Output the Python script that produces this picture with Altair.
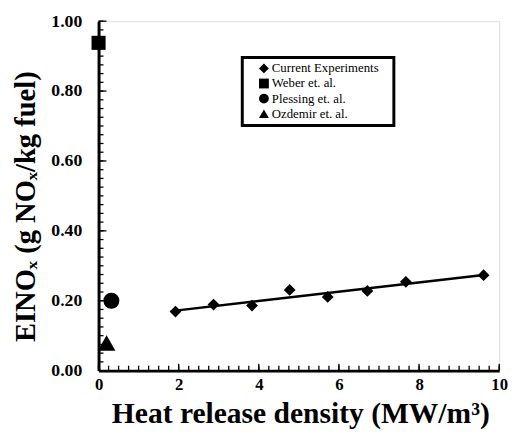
import altair as alt
import pandas as pd

series_names = ["Current Experiments", "Weber et. al.", "Plessing et. al.", "Ozdemir et. al."]
series_shapes = ["diamond", "square", "circle", "triangle-up"]
series_sizes = [144, 324, 314, 300]

cur_x = [1.92, 2.87, 3.83, 4.77, 5.72, 6.71, 7.67, 9.61]
cur_y = [0.169, 0.189, 0.186, 0.231, 0.211, 0.228, 0.254, 0.273]

weber_x = [0.0]
weber_y = [0.938]
plessing_x = [0.32]
plessing_y = [0.200]
ozdemir_x = [0.20]
ozdemir_y = [0.079]

y_minor_ticks = [round(i * 0.025, 4) for i in range(41)]
x_minor_ticks = [round(i * 0.25, 4) for i in range(41)]
y_labels = [0, 0.2, 0.4, 0.6, 0.8, 1.0]
x_labels = [0, 2, 4, 6, 8, 10]

rows = []
for xs, ys, name in [(cur_x, cur_y, series_names[0]), (weber_x, weber_y, series_names[1]),
                     (plessing_x, plessing_y, series_names[2]), (ozdemir_x, ozdemir_y, series_names[3])]:
    for a, b in zip(xs, ys):
        rows.append({"x": a, "y": b, "series": name})
df = pd.DataFrame(rows)
cur_df = pd.DataFrame({"x": cur_x, "y": cur_y})
legend_df = pd.DataFrame({"series": series_names})

FONT = "Liberation Serif"
W, H = 407, 355

xscale = alt.Scale(domain=[0, 10], nice=False, zero=False)
yscale = alt.Scale(domain=[0, 1], nice=False, zero=False)
shape_scale = alt.Scale(domain=series_names, range=series_shapes)

x_main = alt.Axis(
    values=x_labels, ticks=False, grid=False, domain=True, domainWidth=3, domainColor="black",
    labelFont=FONT, labelFontWeight="bold", labelFontSize=17, labelColor="black",
    labelPadding=6, labelFlush=False, labelOverlap=False,
    title="Heat release density (MW/m³)", titleFont=FONT, titleFontWeight="bold",
    titleFontSize=30, titleColor="black", titleBaseline="alphabetic", titleY=53,
    titleX=205, titleAlign="center", orient="bottom",
)
y_main = alt.Axis(
    values=y_labels, format=".2f", ticks=False, grid=False, domain=True, domainWidth=3,
    domainColor="black", labelFont=FONT, labelFontWeight="bold", labelFontSize=18,
    labelColor="black", labelPadding=17, labelFlush=False, labelOverlap=False,
    title="EINOₓ (g NOₓ/kg fuel)", titleFont=FONT, titleFontWeight="bold", titleFontSize=29,
    titleColor="black", titleAngle=-90, titleBaseline="alphabetic", titleX=-65, titleY=188,
    titleAlign="center", orient="left",
)

points = alt.Chart(df).transform_calculate(sz="datum.series").mark_point(filled=True, opacity=1).encode(
    x=alt.X("x:Q", scale=xscale, axis=x_main),
    y=alt.Y("y:Q", scale=yscale, axis=y_main),
    shape=alt.Shape("series:N", scale=shape_scale, legend=None),
    size=alt.Size("sz:N", scale=alt.Scale(domain=series_names, range=series_sizes), legend=None),
    color=alt.value("black"),
)

line = alt.Chart(cur_df).mark_line(color="black", strokeWidth=2.5).encode(
    x=alt.X("x:Q", scale=xscale),
    y=alt.Y("y:Q", scale=yscale),
).transform_regression("x", "y")

y_minor = alt.Chart(pd.DataFrame({"v": y_minor_ticks})).mark_rule(color="black", strokeWidth=1.3).encode(
    y=alt.Y("v:Q", scale=yscale), x=alt.value(0), x2=alt.value(5))
y_major = alt.Chart(pd.DataFrame({"v": y_labels})).mark_rule(color="black", strokeWidth=1.3).encode(
    y=alt.Y("v:Q", scale=yscale), x=alt.value(0), x2=alt.value(8))
x_minor = alt.Chart(pd.DataFrame({"v": x_minor_ticks})).mark_rule(color="black", strokeWidth=1.3).encode(
    x=alt.X("v:Q", scale=xscale), y=alt.value(H), y2=alt.value(H - 5))
x_major = alt.Chart(pd.DataFrame({"v": x_labels})).mark_rule(color="black", strokeWidth=1.3).encode(
    x=alt.X("v:Q", scale=xscale), y=alt.value(H), y2=alt.value(H - 7))

main = alt.layer(points, y_minor, y_major, x_minor, x_major, line)

# hand-built legend box (position is layout, entries come from series_names)
leg_y = alt.Scale(domain=series_names, range=[48, 94], padding=0)
leg_box = alt.Chart(pd.DataFrame({"k": [0]})).mark_rect(
    fill="white", stroke="black", strokeWidth=3).encode(
    x=alt.value(146), x2=alt.value(300), y=alt.value(37), y2=alt.value(106))
leg_sym = alt.Chart(legend_df).mark_point(filled=True, opacity=1, color="black").encode(
    x=alt.value(168),
    y=alt.Y("series:N", scale=leg_y, axis=None),
    shape=alt.Shape("series:N", scale=shape_scale, legend=None),
    size=alt.value(100),
)
leg_txt = alt.Chart(legend_df).mark_text(
    align="left", baseline="middle", font=FONT, fontSize=13, color="black").encode(
    x=alt.value(176),
    y=alt.Y("series:N", scale=leg_y, axis=None),
    text="series:N",
)
legend = alt.layer(leg_box, leg_sym, leg_txt)

chart = alt.layer(main, legend).resolve_scale(x="independent", y="independent").properties(
    width=W, height=H,
    autosize=alt.AutoSizeParams(type="none"),
    padding={"left": 92, "top": 10, "right": 12, "bottom": 60},
).configure_view(stroke="black", strokeWidth=3).configure(background="white")

chart.save("out.html", embed_options={"renderer": "svg", "actions": False})
